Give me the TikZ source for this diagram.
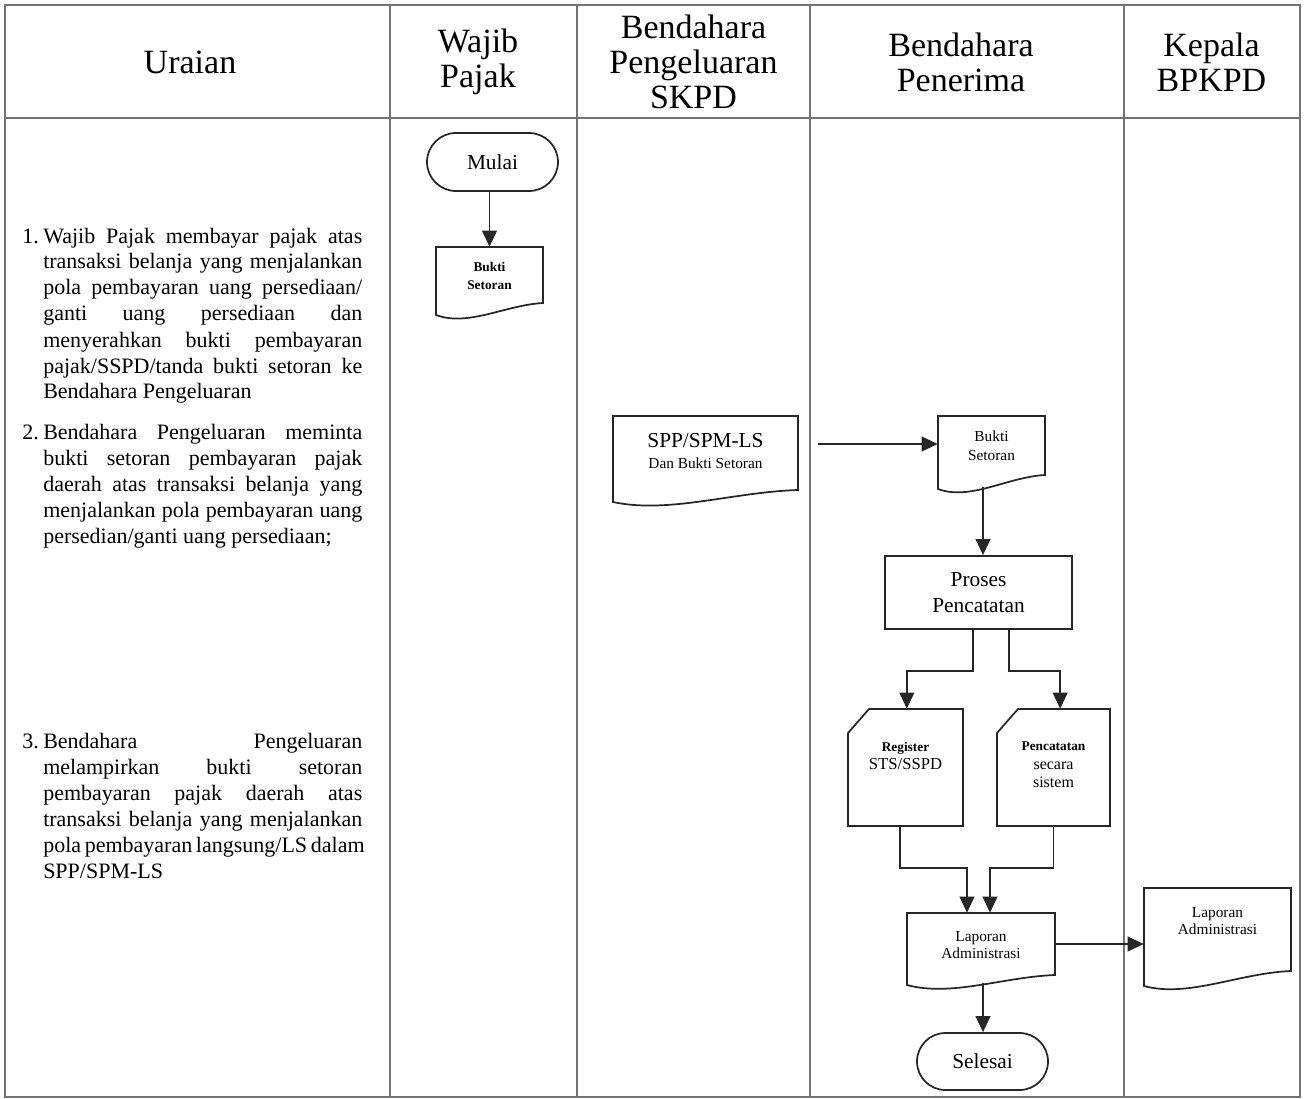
\documentclass[tikz,border=0pt]{standalone}
\usepackage{fontspec}
\setmainfont{Liberation Serif}
\usetikzlibrary{arrows.meta,shapes.misc}

% widths for the numbered description paragraphs
\newlength\itemind \setlength\itemind{15.75pt}
\newlength\itemjw  \setlength\itemjw{239.25pt}
\newcommand\itemfirst[2]{\makebox[\itemind][l]{#1}\makebox[\itemjw][s]{#2}\par}
\newcommand\itemjust[1]{\hspace*{\itemind}\makebox[\itemjw][s]{#1}\par}
\newcommand\itemlast[1]{\hspace*{\itemind}#1\par}

% document symbol: name, left, top, right, right-bottom, left-bottom, text y, font, text
\newcommand\flowdoc[9]{%
  \node[inner sep=0pt, minimum width={(#4-#2)*0.75pt}, minimum height={(#5-#3)*0.75pt}]
    (#1) at ({(#2+#4)/2},{(#3+#5)/2}) {};
  \draw[shp] (#2,#3) -- (#4,#3) -- (#4,#5)
    .. controls ({#4-0.35*(#4-#2)},{#5+2}) and ({#2+0.3*(#4-#2)},{#6+12}) .. (#2,#6) -- cycle;
  \node[txt, font=#8] (#1-t) at ({(#2+#4)/2},#7) {#9};}

% card symbol with clipped corner: name, left, top, right, bottom, text y, font, text
\newcommand\flowcard[8]{%
  \node[inner sep=0pt, minimum width={(#4-#2)*0.75pt}, minimum height={(#5-#3)*0.75pt}]
    (#1) at ({(#2+#4)/2},{(#3+#5)/2}) {};
  \draw[shp] (#2,{#3+24}) -- ({#2+21},#3) -- (#4,#3) -- (#4,#5) -- (#2,#5) -- cycle;
  \node[txt, font=#7] (#1-t) at ({(#2+#4)/2},#6) {#8};}

\begin{document}
\begin{tikzpicture}[x=0.75pt,y=-0.75pt,
  grid/.style={draw=black!55, line width=0.9pt},
  shp/.style={draw=black!85, line width=1.3pt},
  flow/.style={draw=black!85, line width=1.3pt, -{Triangle[length=12pt,width=11pt]}},
  txt/.style={align=center, inner sep=0pt},
  head/.style={txt, font=\fontsize{25.5}{26.25}\selectfont},
  term/.style={shp, rounded rectangle, inner sep=0pt, font=\fontsize{16}{19}\selectfont},
  desc/.style={anchor=base west, inner sep=0pt, font=\fontsize{16.5}{19.5}\selectfont}]
\useasboundingbox (0,0) rectangle (1304,1099);

% ---- table frame ----
\draw[grid] (5,5) rectangle (1300,1097);
\draw[grid] (5,118) -- (1300,118);
\foreach \cx in {390,577,810,1124} \draw[grid] (\cx,5) -- (\cx,1097);

% ---- column headings ----
\node[head] (h-ur)  at (190,62)    {Uraian};
\node[head] (h-wp)  at (478,62)    {Wajib\\Pajak};
\node[head] (h-bp)  at (693.5,62)  {Bendahara\\Pengeluaran\\SKPD};
\node[head] (h-bn)  at (961,62)    {Bendahara\\Penerima};
\node[head] (h-kp)  at (1211.5,62) {Kepala\\BPKPD};

% ---- description column ----
\node[desc] (item1) at (22,243) {\parbox[t]{255pt}{\parindent=0pt
  \itemfirst{1.}{Wajib Pajak membayar pajak atas}
  \itemjust{transaksi belanja yang menjalankan}
  \itemjust{pola pembayaran uang persediaan/}
  \itemjust{ganti uang persediaan dan}
  \itemjust{menyerahkan bukti pembayaran}
  \itemjust{pajak/SSPD/tanda bukti setoran ke}
  \itemlast{Bendahara Pengeluaran}}};
\node[desc] (item2) at (22,439) {\parbox[t]{255pt}{\parindent=0pt
  \itemfirst{2.}{Bendahara Pengeluaran meminta}
  \itemjust{bukti setoran pembayaran pajak}
  \itemjust{daerah atas transaksi belanja yang}
  \itemjust{menjalankan pola pembayaran uang}
  \itemlast{persedian/ganti uang persediaan;}}};
\node[desc] (item3) at (22,748) {\parbox[t]{255pt}{\parindent=0pt
  \itemfirst{3.}{Bendahara Pengeluaran}
  \itemjust{melampirkan bukti setoran}
  \itemjust{pembayaran pajak daerah atas}
  \itemjust{transaksi belanja yang menjalankan}
  \itemjust{pola pembayaran langsung/LS dalam}
  \itemlast{SPP/SPM-LS}}};

% ---- Wajib Pajak lane ----
\node[term, minimum width=98.25pt, minimum height=43.5pt] (mulai) at (492.5,162) {Mulai};
\flowdoc{bukti1}{436}{247}{543}{303}{315}{276}{\bfseries\fontsize{10}{13.5}\selectfont}{Bukti\\Setoran}

% ---- Bendahara Pengeluaran lane ----
\flowdoc{spp}{613}{416}{798}{490}{502}{451}{\fontsize{11.5}{15.75}\selectfont}{{\fontsize{16}{18}\selectfont SPP/SPM-LS}\\Dan Bukti Setoran}

% ---- Bendahara Penerima lane ----
\flowdoc{bukti2}{938}{416}{1045}{475}{489}{446}{\fontsize{11.5}{14.25}\selectfont}{Bukti\\Setoran}
\node[shp, rectangle, minimum width=140.25pt, minimum height=54.75pt, txt,
      font=\fontsize{16}{19.5}\selectfont] (proses) at (978.5,592.5) {Proses\\Pencatatan};
\flowcard{reg}{848}{709}{963}{826}{756}{\fontsize{12.5}{14}\selectfont}{{\bfseries\fontsize{10}{11}\selectfont Register}\\STS/SSPD}
\flowcard{pen}{997}{709}{1110}{826}{765}{\fontsize{12}{14}\selectfont}{{\bfseries\fontsize{10}{11}\selectfont Pencatatan}\\secara\\sistem}
\flowdoc{lap}{907}{913}{1055}{975}{985}{945}{\fontsize{11.5}{13}\selectfont}{Laporan\\Administrasi}
\node[term, minimum width=98.25pt, minimum height=42.75pt] (selesai) at (982.5,1061.5) {Selesai};

% ---- Kepala BPKPD lane ----
\flowdoc{kep}{1144}{888}{1291}{971}{986}{921}{\fontsize{11.5}{13}\selectfont}{Laporan\\Administrasi}

% ---- connectors ----
\coordinate (sppout) at (818,444);
\coordinate (b2out) at (983,487);
\coordinate (lapout) at (983,983);
\draw[flow] (mulai.south -| bukti1.north) -- (bukti1.north);
\draw[flow] (sppout) -- (sppout -| bukti2.west);
\draw[flow] (b2out) -- (b2out |- proses.north);
\draw[flow] ([xshift=-4.1pt]proses.south) -- ++(0,41) -| ([xshift=1pt]reg.north);
\draw[flow] ([xshift=22.9pt]proses.south) -- ++(0,41) -| ([xshift=5pt]pen.north);
\draw[flow] ([xshift=-4pt]reg.south) -- ++(0,42) -| ([xshift=-10.5pt]lap.north);
\draw[flow] (pen.south) -- ++(0,42) -| ([xshift=6.75pt]lap.north);
\draw[flow] (lap.east) -- (lap.east -| kep.west);
\draw[flow] (lapout) -- (lapout |- selesai.north);
\end{tikzpicture}
\end{document}
